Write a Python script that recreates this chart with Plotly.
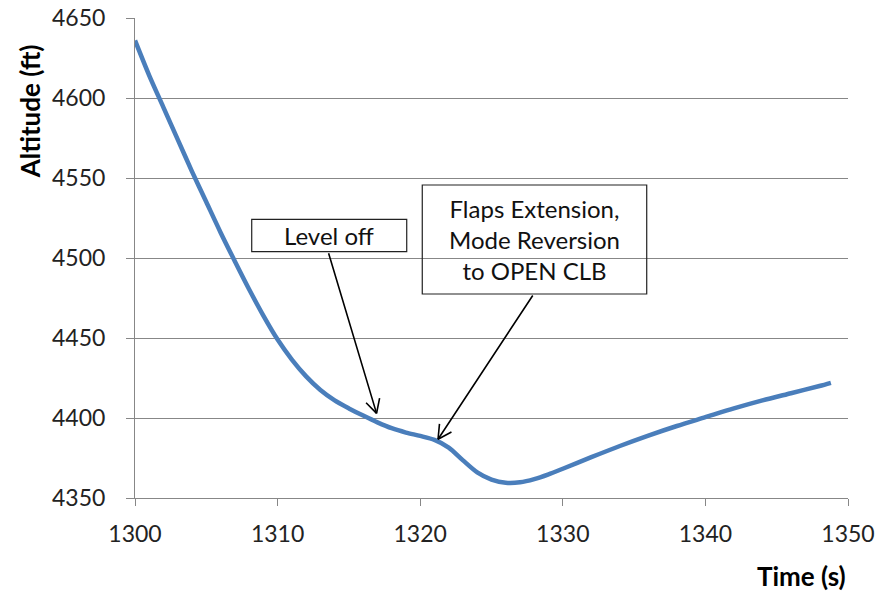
import math
import plotly.graph_objects as go

# Altitude trace (time in seconds, altitude in feet)
time_s = [1300, 1301, 1302, 1303, 1304, 1305, 1306, 1307, 1308, 1309,
          1310, 1311, 1312, 1313, 1314, 1315, 1316, 1317, 1318, 1319,
          1320, 1321, 1322, 1323, 1324, 1325, 1326, 1327, 1328, 1329,
          1330, 1332, 1334, 1336, 1338, 1340, 1342, 1344, 1346, 1348, 1348.8]
altitude_ft = [4636, 4614, 4594, 4574, 4554, 4535, 4516, 4498, 4480.5, 4464,
               4449, 4436.5, 4426, 4417.5, 4411, 4406, 4401.5, 4397.3, 4393.6, 4390.9,
               4388.8, 4386.3, 4381.5, 4373.5, 4366, 4361.5, 4359.5, 4359.8, 4361.8, 4364.8,
               4368.3, 4375.5, 4382.5, 4389, 4395, 4400.5, 4406, 4411, 4415.5, 4420, 4422]

x_ticks = [1300, 1310, 1320, 1330, 1340, 1350]
y_ticks = [4350, 4400, 4450, 4500, 4550, 4600, 4650]

# Event callouts: label, arrow tip (data), arrow tail offset (px), box (paper)
events = [
    {"text": "Level off", "tip": (1316.94, 4402.9), "tail": (-48.4, -161.6),
     "box": (0.1637, 0.5131, 0.3811, 0.5806)},
    {"text": "Flaps Extension,<br>Mode Reversion<br>to OPEN CLB", "tip": (1321.25, 4386.7),
     "tail": (95.7, -145.3), "box": (0.4029, 0.4250, 0.7177, 0.6521)},
]

FONT = "Lato, 'Open Sans', sans-serif"
GRID = "#878787"

fig = go.Figure()
fig.add_trace(go.Scatter(
    x=time_s, y=altitude_ft, mode="lines",
    line=dict(color="#4A7EBB", width=4.5, shape="spline", smoothing=0.8),
    hoverinfo="skip", showlegend=False,
))

annotations = []
shapes = []
for ev in events:
    tx, ty = ev["tip"]
    ax, ay = ev["tail"]
    # shaft
    annotations.append(dict(x=tx, y=ty, xref="x", yref="y", text="", showarrow=True,
                            ax=ax, ay=ay, arrowhead=0, arrowwidth=1.6, arrowcolor="#000000"))
    # open V head: two short strokes rotated about the shaft direction
    n = math.hypot(ax, ay)
    ux, uy = ax / n, ay / n
    for sgn in (1, -1):
        a = math.radians(28) * sgn
        wx = (ux * math.cos(a) - uy * math.sin(a)) * 17
        wy = (ux * math.sin(a) + uy * math.cos(a)) * 17
        annotations.append(dict(x=tx, y=ty, xref="x", yref="y", text="", showarrow=True,
                                ax=wx, ay=wy, arrowhead=0, arrowwidth=1.6, arrowcolor="#000000"))
    x0, y0, x1, y1 = ev["box"]
    shapes.append(dict(type="rect", xref="paper", yref="paper", x0=x0, y0=y0, x1=x1, y1=y1,
                       line=dict(color="#222222", width=1.2), fillcolor="rgba(0,0,0,0)"))
    annotations.append(dict(x=(x0 + x1) / 2, y=(y0 + y1) / 2, xref="paper", yref="paper",
                            text=ev["text"], showarrow=False, xanchor="center", yanchor="middle",
                            font=dict(family=FONT, size=24, color="#111111")))

# axis titles
annotations.append(dict(x=-0.147, y=0.806, xref="paper", yref="paper", text="<b>Altitude (ft)</b>",
                        showarrow=False, textangle=-90, xanchor="center", yanchor="middle",
                        font=dict(family=FONT, size=26, color="#000000")))
annotations.append(dict(x=1.0, y=-0.1625, xref="paper", yref="paper", text="<b>Time (s)</b>",
                        showarrow=False, xanchor="right", yanchor="middle",
                        font=dict(family=FONT, size=26, color="#000000")))

fig.update_layout(
    width=876, height=593,
    margin=dict(l=135, r=28, t=18, b=95, autoexpand=False),
    paper_bgcolor="white", plot_bgcolor="white",
    font=dict(family=FONT, size=23, color="#222222"),
    annotations=annotations, shapes=shapes,
    xaxis=dict(range=[1300, 1350], tickvals=x_ticks, showgrid=False, zeroline=False,
               showline=True, linecolor=GRID, linewidth=1, ticks="outside", ticklen=7,
               tickcolor=GRID, ticklabelstandoff=8, fixedrange=True, automargin=False),
    yaxis=dict(range=[4350, 4650], tickvals=y_ticks, showgrid=True, gridcolor=GRID, gridwidth=1,
               zeroline=False, showline=True, linecolor=GRID, linewidth=1, ticks="outside",
               ticklen=8, tickcolor=GRID, ticklabelstandoff=16, fixedrange=True, automargin=False),
)

fig.write_html("out.html")
